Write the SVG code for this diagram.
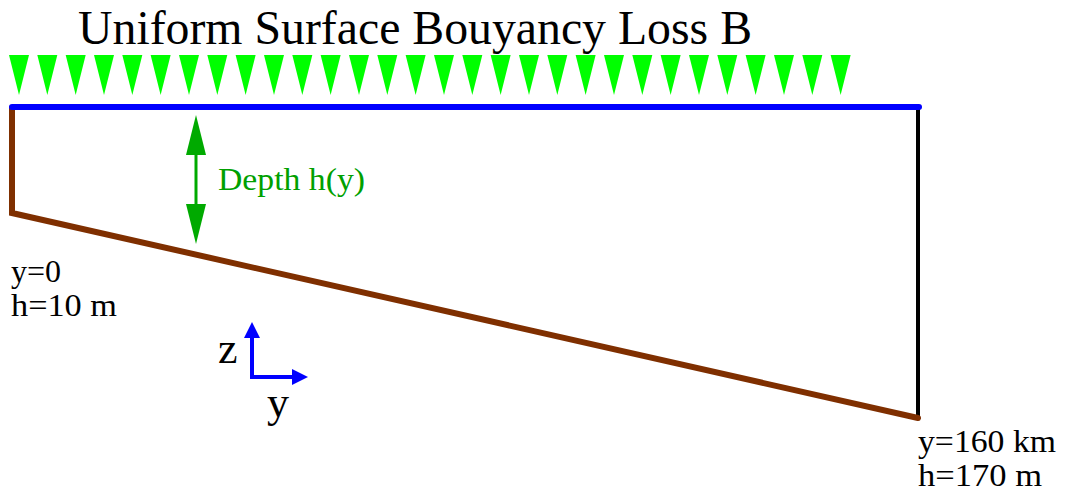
<svg xmlns="http://www.w3.org/2000/svg" width="1066" height="498" viewBox="0 0 1066 498">
<style>
.t{font-family:"Liberation Serif","Times New Roman",serif;fill:#000}
.tri{fill:#00ff00}
</style>
<defs>
<g id="tri"><path class="tri" d="M9,55 L29,55 L19,95 Z"/></g>
</defs>
<g id="title"><text class="t" x="78" y="44" font-size="48" textLength="674" lengthAdjust="spacingAndGlyphs">Uniform Surface Bouyancy Loss B</text></g>
<g id="forcing">
<use href="#tri" x="0"/><use href="#tri" x="28.33"/><use href="#tri" x="56.66"/><use href="#tri" x="85"/><use href="#tri" x="113.3"/><use href="#tri" x="141.6"/><use href="#tri" x="170"/><use href="#tri" x="198.3"/><use href="#tri" x="226.6"/><use href="#tri" x="255"/><use href="#tri" x="283.3"/><use href="#tri" x="311.6"/><use href="#tri" x="340"/><use href="#tri" x="368.3"/><use href="#tri" x="396.6"/><use href="#tri" x="425"/><use href="#tri" x="453.3"/><use href="#tri" x="481.6"/><use href="#tri" x="510"/><use href="#tri" x="538.3"/><use href="#tri" x="566.6"/><use href="#tri" x="595"/><use href="#tri" x="623.3"/><use href="#tri" x="651.6"/><use href="#tri" x="680"/><use href="#tri" x="708.3"/><use href="#tri" x="736.6"/><use href="#tri" x="765"/><use href="#tri" x="793.3"/><use href="#tri" x="821.6"/>
</g>
<g id="basin">
<line x1="918" y1="107" x2="918" y2="418" stroke="#000" stroke-width="4"/>
<polyline points="12,108 12,213 918,418" fill="none" stroke="#7f2f00" stroke-width="6" stroke-linejoin="miter" stroke-linecap="round"/>
<line x1="12" y1="107" x2="919" y2="107" stroke="#0000ff" stroke-width="6" stroke-linecap="round"/>
</g>
<g id="depth">
<line x1="196" y1="140" x2="196" y2="220" stroke="#00aa00" stroke-width="3"/>
<path d="M196,115 L206,155 L186,155 Z" fill="#00aa00"/>
<path d="M196,244 L206,204 L186,204 Z" fill="#00aa00"/>
<text class="t" x="218" y="190" font-size="32" textLength="147" lengthAdjust="spacingAndGlyphs" style="fill:#00a000">Depth h(y)</text>
</g>
<g id="labels">
<text class="t" x="11" y="282" font-size="32">y=0</text>
<text class="t" x="11" y="316" font-size="32" textLength="106" lengthAdjust="spacingAndGlyphs">h=10 m</text>
<text class="t" x="918" y="452" font-size="32" textLength="138" lengthAdjust="spacingAndGlyphs">y=160 km</text>
<text class="t" x="918" y="486" font-size="32" textLength="124" lengthAdjust="spacingAndGlyphs">h=170 m</text>
</g>
<g id="axes">
<polyline points="252,336 252,377 294,377" fill="none" stroke="#0000ff" stroke-width="4"/>
<path d="M252,322 L260,338 L244,338 Z" fill="#0000ff"/>
<path d="M308,377 L292,369 L292,385 Z" fill="#0000ff"/>
<text class="t" x="218" y="363" font-size="44">z</text>
<text class="t" x="267" y="417" font-size="44">y</text>
</g>
</svg>
